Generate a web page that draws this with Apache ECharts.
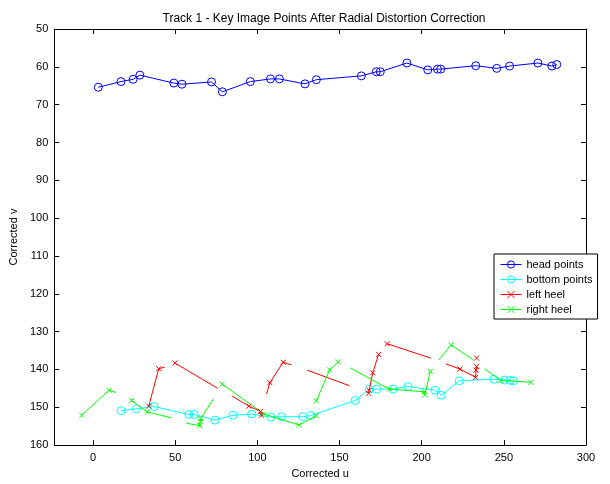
<!DOCTYPE html>
<html>
<head>
<meta charset="utf-8">
<script src="https://cdn.jsdelivr.net/npm/echarts@6/dist/echarts.min.js"></script>
<style>
  html, body { margin: 0; padding: 0; background: #fff; }
  #chart { width: 610px; height: 484px; }
</style>
</head>
<body>
<div id="chart"></div>
<script>
// tick labels
var xTicks = [0, 50, 100, 150, 200, 250, 300];

// head points (u, v)
var headU = [3.2, 17.0, 24.4, 28.5, 49.2, 54.1, 72.1, 78.7, 95.7, 108.0, 113.4, 129.0, 135.9,
  163.3, 172.4, 174.8, 191.0, 203.7, 209.6, 211.6, 232.9, 245.7, 253.5, 270.7, 279.2, 282.2];
var headV = [65.4, 63.9, 63.3, 62.2, 64.3, 64.6, 64.0, 66.6, 63.9, 63.2, 63.2, 64.5, 63.4,
  62.4, 61.3, 61.3, 59.0, 60.8, 60.6, 60.6, 59.7, 60.4, 59.8, 59.0, 59.8, 59.4];

// bottom points (u, v)
var bottomU = [17.1, 26.4, 37.1, 58.3, 61.5, 74.3, 85.2, 96.5, 108.2, 114.7, 127.6, 132.4,
  159.5, 168.1, 172.6, 182.6, 191.6, 208.1, 211.9, 222.8, 243.9, 250.3, 253.8, 255.8];
var bottomV = [150.9, 150.4, 149.8, 151.9, 151.9, 153.4, 152.1, 151.8, 152.6, 152.5, 152.5, 152.2,
  148.2, 145.2, 145.2, 145.2, 144.5, 145.5, 146.8, 143.0, 142.6, 142.8, 142.9, 143.0];

// left heel: separate pieces, [u, v]
var leftHeel = [
  [[33.9, 149.7], [40.0, 139.8], [43.6, 139.4]],
  [[49.8, 138.3], [75.9, 145.0]],
  [[84.4, 147.0], [94.9, 149.7], [101.9, 151.1], [102.5, 152.1]],
  [[105.6, 146.5], [107.6, 143.5], [115.7, 138.1], [120.7, 138.8]],
  [[130.4, 140.2], [156.0, 144.3]],
  [[167.7, 146.3], [168.1, 145.5], [170.2, 140.9], [173.8, 136.0]],
  [[179.0, 133.2], [205.5, 137.0]],
  [[214.6, 138.5], [223.3, 139.9], [232.8, 142.1], [233.1, 140.2], [233.4, 139.2]],
  [[233.4, 137.0]]
];
// which points of each piece carry an x marker
var leftHeelMarks = [
  [1, 1, 0], [1, 0], [0, 1, 1, 1], [0, 1, 1, 0], [0, 0],
  [1, 1, 1, 1], [1, 0], [0, 1, 1, 1, 1], [1]
];

// right heel: separate pieces, [u, v]
var rightHeel = [
  [[-6.9, 152.1], [9.7, 145.5], [14.1, 146.1]],
  [[23.4, 148.2], [32.9, 151.2], [47.6, 152.8]],
  [[56.8, 154.2], [65.0, 154.9], [65.3, 153.8], [65.4, 153.0], [73.3, 147.8]],
  [[78.6, 143.9], [104.2, 151.8], [125.3, 154.7], [135.9, 152.2]],
  [[135.9, 148.3], [144.0, 140.1], [149.2, 138.0]],
  [[156.5, 139.6], [180.3, 145.2], [201.6, 145.9], [201.9, 146.7], [205.3, 140.5]],
  [[210.5, 137.5], [217.9, 133.5], [231.1, 137.4]],
  [[238.2, 139.8], [247.9, 142.9], [266.4, 143.4]]
];
var rightHeelMarks = [
  [1, 1, 0], [1, 1, 0], [0, 1, 1, 1, 0], [1, 1, 1, 1], [1, 1, 1],
  [0, 1, 1, 1, 1], [0, 1, 0], [0, 1, 1]
];

var FONT = 'Liberation Sans, Arial, sans-serif';
var xMark = 'path://M0,0L10,10M10,0L0,10';

function zip(us, vs) {
  return us.map(function (u, i) { return [u, vs[i]]; });
}

function circleSeries(name, color, us, vs) {
  return {
    name: name,
    type: 'line',
    data: zip(us, vs),
    symbol: 'circle',
    symbolSize: 8,
    showSymbol: true,
    lineStyle: { color: color, width: 1 },
    itemStyle: { color: 'rgba(255,255,255,0)', borderColor: color, borderWidth: 1 },
    emphasis: { disabled: true },
    z: 3
  };
}

function heelSeries(name, color, pieces, marks) {
  return pieces.map(function (piece, k) {
    return {
      name: name,
      type: 'line',
      data: piece.map(function (p, i) {
        return { value: p, symbol: marks[k][i] ? xMark : 'none' };
      }),
      symbol: xMark,
      symbolSize: 5,
      showSymbol: true,
      lineStyle: { color: color, width: 1 },
      itemStyle: { color: color, borderColor: color, borderWidth: 1 },
      emphasis: { disabled: true },
      z: 4
    };
  });
}

var chart = echarts.init(document.getElementById('chart'));

var series = [
  circleSeries('head points', '#0000ff', headU, headV),
  circleSeries('bottom points', '#00ffff', bottomU, bottomV)
].concat(heelSeries('left heel', '#ff0000', leftHeel, leftHeelMarks))
 .concat(heelSeries('right heel', '#00ff00', rightHeel, rightHeelMarks));

var axisLine = { show: true, onZero: false, lineStyle: { color: '#000', width: 1 } };

chart.setOption({
  animation: false,
  backgroundColor: '#fff',
  title: {
    text: 'Track 1 - Key Image Points After Radial Distortion Correction',
    left: 319,
    textAlign: 'center',
    top: 8,
    textStyle: { fontFamily: FONT, fontSize: 12, fontWeight: 'normal', color: '#000' }
  },
  grid: { left: 52, right: 24, top: 29, bottom: 31, containLabel: false },
  legend: {
    data: ['head points', 'bottom points', 'left heel', 'right heel'],
    orient: 'vertical',
    left: 494,
    top: 254,
    itemWidth: 21,
    itemHeight: 9,
    itemGap: 4,
    padding: [5, 5, 4, 6],
    borderColor: '#000',
    borderWidth: 1,
    backgroundColor: '#fff',
    lineStyle: { width: 1 },
    itemStyle: { borderWidth: 1 },
    textStyle: { fontFamily: FONT, fontSize: 11, color: '#000' },
    selectedMode: false
  },
  xAxis: [{
    type: 'value',
    position: 'bottom',
    min: -23.6,
    max: 300,
    name: 'Corrected u',
    nameLocation: 'middle',
    nameGap: 21,
    nameTextStyle: { fontFamily: FONT, fontSize: 11, color: '#000' },
    axisLine: axisLine,
    axisTick: { inside: true, length: 5, lineStyle: { color: '#000' }, customValues: xTicks },
    axisLabel: { fontFamily: FONT, fontSize: 11, color: '#000', margin: 7, customValues: xTicks },
    splitLine: { show: false }
  }, {
    type: 'value',
    position: 'top',
    min: -23.6,
    max: 300,
    axisLine: axisLine,
    axisTick: { inside: true, length: 5, lineStyle: { color: '#000' }, customValues: xTicks },
    axisLabel: { show: false },
    splitLine: { show: false }
  }],
  yAxis: [{
    type: 'value',
    position: 'left',
    inverse: true,
    min: 50,
    max: 160,
    interval: 10,
    name: 'Corrected v',
    nameLocation: 'middle',
    nameGap: 30,
    nameRotate: 90,
    nameTextStyle: { fontFamily: FONT, fontSize: 11, color: '#000' },
    axisLine: axisLine,
    axisTick: { inside: true, length: 5, lineStyle: { color: '#000' } },
    axisLabel: { fontFamily: FONT, fontSize: 11, color: '#000', margin: 6 },
    splitLine: { show: false }
  }, {
    type: 'value',
    position: 'right',
    inverse: true,
    min: 50,
    max: 160,
    interval: 10,
    axisLine: axisLine,
    axisTick: { inside: true, length: 5, lineStyle: { color: '#000' } },
    axisLabel: { show: false },
    splitLine: { show: false }
  }],
  series: series
});
</script>
</body>
</html>
